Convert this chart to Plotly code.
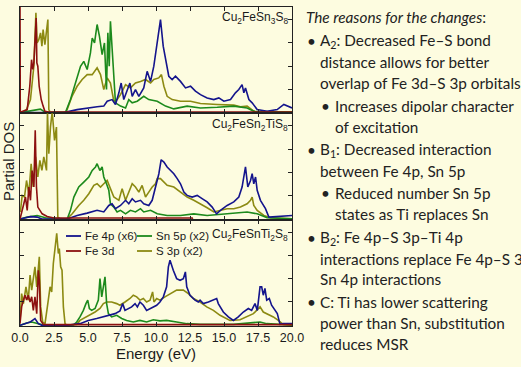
import plotly.graph_objects as go
from plotly.subplots import make_subplots

# ---------------- DATA ----------------
panel_titles = ["Cu<sub>2</sub>FeSn<sub>3</sub>S<sub>8</sub>",
                "Cu<sub>2</sub>FeSn<sub>2</sub>TiS<sub>8</sub>",
                "Cu<sub>2</sub>FeSnTi<sub>2</sub>S<sub>8</sub>"]
series_names = ["S 3p (x2)", "Sn 5p (x2)", "Fe 4p (x6)", "Fe 3d"]
series_colors = ["#8c8a12", "#1c8a1c", "#14148c", "#8c1010"]

# Panel 1: Cu2FeSn3S8
p1_s3p_e = [0, 0.4, 0.77, 1.02, 1.17, 1.26, 1.38, 1.51, 1.61, 1.7, 1.83, 1.95, 2.05, 2.12, 2.24, 3.35, 3.47, 3.84, 4.2, 4.57, 4.94, 5.31, 5.67, 5.92, 6.16, 6.41, 6.65, 6.9, 7.14, 7.39, 7.76, 8.12, 8.49, 8.86, 9.23, 9.6, 9.84, 10.2, 10.4, 10.58, 10.82, 11.19, 11.8, 12.54, 13.27, 14.5, 15.72, 16.21, 16.7, 17.19, 18.17, 20]
p1_s3p_v = [0.0, 0.02, 0.56, 2.0, 4.28, 2.99, 3.13, 3.42, 2.85, 3.56, 2.92, 3.42, 3.99, 0.13, 0.0, 0.0, 0.14, 0.72, 1.13, 1.42, 1.63, 1.63, 1.92, 1.63, 0.99, 1.49, 1.27, 0.49, 0.56, 0.77, 1.2, 1.06, 1.27, 1.34, 1.42, 1.27, 1.42, 1.49, 1.63, 1.13, 0.7, 0.56, 0.49, 0.49, 0.39, 0.35, 0.32, 0.25, 0.28, 0.06, 0.03, 0.03]
p1_sn5p_e = [0, 0.53, 1.0, 1.5, 1.9, 3.35, 3.71, 4.08, 4.45, 4.69, 4.94, 5.18, 5.31, 5.48, 5.67, 5.84, 6.04, 6.21, 6.36, 6.46, 6.56, 6.65, 6.8, 7.02, 7.39, 7.76, 8.0, 8.25, 8.62, 9.1, 9.47, 10.09, 10.7, 11.31, 12.29, 13.27, 14.5, 15.72, 16.7, 17.19, 20]
p1_sn5p_v = [0.0, 0.05, 0.1, 0.15, 0.0, 0.02, 0.56, 1.27, 1.99, 2.2, 1.85, 2.56, 3.2, 2.99, 3.78, 3.28, 2.49, 2.99, 0.99, 3.42, 1.99, 3.92, 2.27, 0.42, 0.28, 0.2, 0.56, 0.42, 0.49, 0.7, 0.56, 0.49, 0.28, 0.16, 0.28, 0.2, 0.23, 0.28, 0.2, 0.06, 0.02]
p1_fe4p_e = [0, 3.22, 4.2, 4.94, 5.67, 6.16, 6.41, 6.77, 7.02, 7.27, 7.44, 7.63, 7.88, 8.08, 8.25, 8.49, 8.74, 9.1, 9.35, 9.6, 9.84, 10.09, 10.33, 10.53, 10.7, 10.94, 11.19, 11.43, 11.8, 12.17, 12.54, 12.9, 13.27, 13.76, 14.25, 14.62, 14.99, 15.48, 15.84, 16.09, 16.33, 16.46, 16.58, 16.83, 17.07, 17.44, 18.17, 18.91, 19.4, 20]
p1_fe4p_v = [0.0, 0.0, 0.13, 0.2, 0.25, 0.28, 0.49, 0.56, 0.35, 0.85, 1.27, 0.56, 0.99, 1.27, 0.7, 0.99, 0.7, 1.06, 1.77, 1.34, 1.99, 3.13, 3.99, 2.85, 2.27, 1.56, 1.42, 1.56, 1.34, 1.06, 1.13, 0.92, 0.77, 0.63, 0.56, 0.63, 0.49, 0.56, 0.85, 0.99, 1.2, 0.85, 1.06, 0.56, 0.42, 0.13, 0.06, 0.13, 0.35, 0.2]
p1_fe3d_e = [0, 0.02, 0.53, 0.72, 0.85, 0.94, 1.02, 1.12, 1.19, 1.24, 1.31, 1.41, 1.56, 1.7, 1.83, 2.2, 20]
p1_fe3d_v = [4.6, 0.02, 0.13, 1.13, 2.27, 1.85, 2.13, 3.42, 4.06, 2.13, 1.99, 1.13, 0.56, 0.28, 0.06, 0.02, 0.02]

# Panel 2: Cu2FeSn2TiS8
p2_s3p_e = [0, 0.04, 0.16, 0.33, 0.48, 0.65, 0.82, 0.97, 1.14, 1.31, 1.46, 1.61, 1.75, 1.9, 1.95, 2.02, 2.12, 2.24, 2.37, 2.54, 2.68, 2.78, 2.95, 3.47, 3.84, 4.32, 4.69, 5.06, 5.43, 5.67, 5.92, 6.16, 6.41, 6.65, 6.9, 7.27, 7.51, 7.76, 8.0, 8.25, 8.49, 8.74, 8.98, 9.23, 9.47, 9.72, 9.96, 10.09, 10.33, 10.58, 10.82, 11.31, 11.8, 12.29, 12.78, 13.27, 13.76, 14.25, 14.74, 15.23, 15.72, 16.21, 16.7, 16.95, 17.07, 17.19, 17.44, 17.93, 18.42, 20]
p2_s3p_v = [0.3, 0.37, 1.01, 0.94, 1.65, 1.08, 2.37, 1.37, 2.66, 1.8, 2.51, 2.08, 2.66, 2.23, 2.08, 4.6, 2.8, 3.94, 4.6, 3.37, 3.94, 0.08, 0.0, 0.01, 0.22, 0.58, 0.8, 1.08, 1.44, 1.51, 1.37, 1.51, 1.65, 1.3, 0.94, 0.8, 1.3, 0.8, 1.15, 1.51, 1.37, 1.15, 1.44, 0.94, 1.15, 1.37, 1.51, 1.73, 1.73, 1.58, 1.44, 1.37, 1.15, 0.94, 0.8, 0.65, 0.48, 0.3, 0.37, 0.44, 0.44, 0.51, 0.65, 0.8, 0.94, 0.58, 0.37, 0.15, 0.05, 0.01]
p2_sn5p_e = [0, 0.53, 1.26, 1.87, 3.47, 3.71, 3.96, 4.32, 4.69, 5.06, 5.31, 5.55, 5.67, 5.87, 6.04, 6.16, 6.36, 6.53, 6.65, 6.9, 7.14, 7.39, 7.76, 8.12, 8.49, 8.86, 9.1, 9.6, 10.09, 10.82, 11.8, 12.78, 13.76, 14.74, 15.72, 16.7, 17.44, 18.17, 20]
p2_sn5p_v = [0.0, 0.08, 0.15, 0.05, 0.0, 0.37, 0.94, 1.37, 1.58, 1.8, 2.08, 2.23, 2.37, 2.08, 2.23, 1.8, 1.51, 1.23, 0.65, 0.51, 0.3, 0.37, 0.22, 0.37, 0.3, 0.44, 0.3, 0.37, 0.22, 0.15, 0.15, 0.22, 0.15, 0.2, 0.22, 0.3, 0.22, 0.05, 0.01]
p2_fe4p_e = [0, 0.77, 1.26, 1.6, 3.47, 4.2, 4.94, 5.67, 6.16, 6.53, 6.77, 7.02, 7.39, 7.76, 8.0, 8.25, 8.49, 8.86, 9.1, 9.47, 9.72, 9.96, 10.21, 10.38, 10.58, 10.82, 11.07, 11.31, 11.56, 11.8, 12.05, 12.29, 12.66, 13.03, 13.39, 13.76, 14.13, 14.45, 14.74, 15.23, 15.72, 16.09, 16.33, 16.58, 16.75, 16.95, 17.07, 17.19, 17.32, 17.44, 17.68, 18.05, 18.3, 18.91, 20]
p2_fe4p_v = [0.0, 0.1, 0.08, 0.0, 0.0, 0.15, 0.25, 0.37, 0.3, 0.58, 0.65, 0.44, 0.58, 0.8, 0.65, 0.87, 0.73, 0.8, 0.65, 0.58, 0.8, 1.37, 1.94, 2.54, 2.44, 2.23, 2.08, 1.94, 1.73, 1.51, 1.15, 1.01, 0.94, 1.01, 0.87, 0.73, 0.51, 0.22, 0.37, 0.58, 0.73, 0.94, 1.37, 2.23, 1.37, 1.65, 1.94, 1.51, 1.8, 1.23, 0.8, 0.44, 0.08, 0.11, 0.15]
p2_fe3d_e = [0, 0.04, 0.28, 0.4, 0.53, 0.65, 0.77, 0.89, 1.02, 1.12, 1.21, 1.31, 1.46, 1.63, 2.0, 2.49, 12.66, 12.7]
p2_fe3d_v = [0.0, 0.08, 0.65, 0.94, 0.37, 1.37, 0.8, 2.08, 1.37, 3.8, 1.37, 0.51, 0.37, 0.22, 0.11, 0.04, 0.04, 0.0]

# Panel 3: Cu2FeSnTi2S8
p3_s3p_e = [0, 0.12, 0.25, 0.44, 0.61, 0.74, 0.86, 0.98, 1.1, 1.23, 1.35, 1.42, 1.52, 1.67, 1.84, 1.96, 2.08, 2.21, 2.33, 2.45, 2.57, 2.7, 2.82, 2.89, 2.99, 3.09, 3.19, 3.31, 3.45, 4.17, 4.41, 4.66, 4.9, 5.15, 5.52, 5.88, 6.13, 6.37, 6.74, 7.11, 7.35, 7.72, 8.09, 8.33, 8.58, 8.82, 9.07, 9.31, 9.56, 9.75, 9.85, 10.05, 10.29, 10.66, 11.03, 11.52, 12.01, 12.38, 12.75, 13.24, 13.73, 14.22, 14.71, 15.44, 16.18, 16.67, 17.16, 17.4, 17.65, 17.89, 18.14, 18.63, 18.99, 19.36, 20]
p3_s3p_v = [0.2, 1.36, 0.93, 1.65, 1.08, 2.15, 1.51, 2.0, 2.51, 1.65, 2.79, 2.94, 0.79, 0.14, 0.07, 0.5, 1.08, 1.65, 1.43, 2.65, 3.22, 3.94, 3.08, 3.29, 2.51, 2.36, 0.79, 0.07, 0.0, 0.04, 0.21, 0.29, 0.36, 0.43, 0.57, 0.72, 0.93, 1.0, 1.0, 0.93, 0.86, 1.0, 1.15, 1.29, 1.22, 1.08, 1.15, 1.0, 1.08, 1.43, 1.0, 1.15, 1.08, 1.22, 1.36, 1.51, 1.51, 1.36, 1.15, 1.0, 0.79, 0.64, 0.43, 0.21, 0.24, 0.36, 0.5, 0.64, 0.79, 0.57, 0.5, 0.36, 0.21, 0.04, 0.0]
p3_sn5p_e = [0, 0.49, 0.86, 1.47, 1.8, 3.92, 4.17, 4.41, 4.66, 4.85, 4.98, 5.1, 5.27, 5.52, 5.76, 5.88, 6.01, 6.13, 6.25, 6.37, 6.5, 6.74, 7.11, 7.48, 7.84, 8.33, 8.82, 9.31, 9.8, 10.29, 10.78, 11.52, 12.26, 13.24, 15.69, 17.65, 18.14, 20]
p3_sn5p_v = [0.0, 0.1, 0.14, 0.04, 0.0, 0.01, 0.14, 0.36, 0.64, 0.93, 1.08, 0.72, 0.64, 0.72, 1.08, 2.0, 1.22, 1.65, 2.08, 0.93, 0.5, 0.36, 0.43, 0.29, 0.21, 0.14, 0.21, 0.14, 0.24, 0.19, 0.21, 0.14, 0.07, 0.04, 0.04, 0.14, 0.07, 0.01]
p3_fe4p_e = [0, 0.74, 1.1, 1.35, 1.6, 3.43, 4.41, 5.02, 5.64, 6.13, 6.62, 6.99, 7.35, 7.55, 7.72, 7.97, 8.21, 8.46, 8.63, 8.82, 9.07, 9.31, 9.56, 9.8, 10.05, 10.29, 10.54, 10.78, 10.91, 11.03, 11.15, 11.27, 11.52, 11.77, 12.01, 12.16, 12.26, 12.5, 12.87, 13.11, 13.24, 13.48, 13.85, 14.22, 14.46, 14.58, 14.95, 15.32, 15.69, 16.05, 16.42, 16.79, 17.03, 17.28, 17.45, 17.65, 17.77, 17.89, 18.01, 18.14, 18.33, 18.5, 18.75, 18.92, 19.12, 19.36, 20]
p3_fe4p_v = [0.0, 0.14, 0.29, 0.07, 0.0, 0.0, 0.07, 0.21, 0.29, 0.36, 0.43, 0.5, 0.62, 0.93, 0.64, 0.72, 0.79, 0.93, 0.79, 1.0, 0.86, 0.64, 0.72, 0.79, 0.86, 1.0, 1.22, 1.65, 2.51, 2.79, 2.51, 2.36, 2.0, 1.93, 2.0, 2.29, 1.65, 1.29, 1.08, 1.0, 1.08, 0.93, 1.0, 1.08, 1.15, 0.93, 0.57, 0.36, 0.21, 0.36, 0.57, 0.72, 0.64, 0.93, 0.64, 1.65, 1.65, 1.29, 1.58, 1.08, 1.15, 0.86, 0.64, 0.5, 0.04, 0.07, 0.07]
p3_fe3d_e = [0, 0.12, 0.25, 0.37, 0.49, 0.61, 0.74, 0.86, 0.98, 1.1, 1.23, 1.35, 1.42, 1.52, 1.72, 2.2, 20]
p3_fe3d_v = [0.07, 0.79, 1.08, 1.29, 1.08, 1.29, 1.0, 1.22, 0.64, 1.22, 0.5, 2.36, 1.93, 0.21, 0.04, 0.03, 0.03]

x_ticks = [0, 2.5, 5, 7.5, 10, 12.5, 15, 17.5, 20]
x_tick_labels = ["0.0", "2.5", "5.0", "7.5", "10.0", "12.5", "15.0", "17.5", "20.0"]

notes = [
    ("<i>The reasons for the changes</i>:", 304, 17, False),
    ("A<sub>2</sub>: Decreased Fe\u2013S bond", 318, 41, "b1"),
    ("distance allows for better", 318, 62, False),
    ("overlap of Fe 3d\u2013S 3p orbitals", 318, 83, False),
    ("Increases dipolar character", 333, 106, "b2"),
    ("of excitation", 333, 127, False),
    ("B<sub>1</sub>: Decreased interaction", 318, 150, "b1"),
    ("between Fe 4p, Sn 5p", 318, 171, False),
    ("Reduced number Sn 5p", 333, 193, "b2"),
    ("states as Ti replaces Sn", 333, 214, False),
    ("B<sub>2</sub>: Fe 4p\u2013S 3p\u2013Ti 4p", 318, 238, "b1"),
    ("interactions replace Fe 4p\u2013S 3p\u2013", 318, 259, False),
    ("Sn 4p interactions", 318, 279, False),
    ("C: Ti has lower scattering", 318, 302, "b1"),
    ("power than Sn, substitution", 318, 323, False),
    ("reduces MSR", 318, 344, False),
]

# ---------------- FIGURE ----------------
W, H = 521, 367
ML, MR, MT, MB = 20, 229, 7, 41
PW, PH = W - ML - MR, H - MT - MB
BG = "#fdfce0"

def px_x(px):
    return (px - ML) / PW

def px_y(py):
    return (H - MB - py) / PH

fig = make_subplots(rows=3, cols=1, shared_xaxes=True, vertical_spacing=0)

panels = [
    [(p1_s3p_e, p1_s3p_v), (p1_sn5p_e, p1_sn5p_v), (p1_fe4p_e, p1_fe4p_v), (p1_fe3d_e, p1_fe3d_v)],
    [(p2_s3p_e, p2_s3p_v), (p2_sn5p_e, p2_sn5p_v), (p2_fe4p_e, p2_fe4p_v), (p2_fe3d_e, p2_fe3d_v)],
    [(p3_s3p_e, p3_s3p_v), (p3_sn5p_e, p3_sn5p_v), (p3_fe4p_e, p3_fe4p_v), (p3_fe3d_e, p3_fe3d_v)],
]
for r, series in enumerate(panels, start=1):
    for (e, v), name, col in zip(series, series_names, series_colors):
        fig.add_trace(go.Scatter(x=e, y=v, mode="lines", name=name,
                                 line=dict(color=col, width=1.6),
                                 showlegend=False, cliponaxis=True, hoverinfo="skip"),
                      row=r, col=1)

axis_font = dict(family="Liberation Sans, Arial, sans-serif", size=12.5, color="#1a1a1a")
for r in range(1, 4):
    fig.update_xaxes(range=[0, 20], tickvals=x_ticks, ticktext=x_tick_labels,
                     ticks="inside", ticklen=4, tickcolor="#222",
                     showline=True, linecolor="#222", linewidth=1, mirror="allticks",
                     showgrid=False, zeroline=False,
                     showticklabels=(r == 3), tickfont=axis_font, row=r, col=1)
    fig.update_yaxes(range=[-0.03, 4.53], dtick=1, tick0=0, ticks="inside", ticklen=4,
                     tickcolor="#222", showline=True, linecolor="#222", linewidth=1,
                     mirror="allticks", showgrid=False, zeroline=False,
                     showticklabels=False, row=r, col=1)

fig.update_xaxes(title=dict(text="Energy (eV)", standoff=2,
                            font=dict(family="Liberation Sans, Arial, sans-serif", size=15, color="#1a1a1a")),
                 row=3, col=1)

annotations = []
# panel titles
title_y = [18, 125, 235]
for t, yy in zip(panel_titles, title_y):
    annotations.append(dict(text=t, xref="paper", yref="paper", x=px_x(290), y=px_y(yy),
                            xanchor="right", yanchor="middle", showarrow=False,
                            font=dict(family="Liberation Sans, Arial, sans-serif", size=12, color="#1a1a1a")))
# y axis title
annotations.append(dict(text="Partial DOS", xref="paper", yref="paper", x=px_x(8), y=px_y(162),
                        textangle=-90, xanchor="center", yanchor="middle", showarrow=False,
                        font=dict(family="Liberation Sans, Arial, sans-serif", size=15, color="#1a1a1a")))

# manual legend in bottom panel
legend_items = [
    (2, 66, 236), (1, 137, 236),
    (3, 66, 251), (0, 137, 251),
]
shapes = []
for idx, lx, ly in legend_items:
    shapes.append(dict(type="line", xref="paper", yref="paper",
                       x0=px_x(lx), x1=px_x(lx + 15), y0=px_y(ly), y1=px_y(ly),
                       line=dict(color=series_colors[idx], width=1.8)))
    annotations.append(dict(text=series_names[idx], xref="paper", yref="paper",
                            x=px_x(lx + 17), y=px_y(ly), xanchor="left", yanchor="middle",
                            showarrow=False,
                            font=dict(family="Liberation Sans, Arial, sans-serif", size=11.5, color="#1a1a1a")))

# right-hand notes
note_font = dict(family="Lato, Carlito, sans-serif", size=15.3, color="#222")
for text, px, py, bullet in notes:
    annotations.append(dict(text=text, xref="paper", yref="paper", x=px_x(px), y=px_y(py),
                            xanchor="left", yanchor="middle", showarrow=False, font=note_font))
    if bullet:
        bx = px - 13 if bullet == "b1" else px - 14
        annotations.append(dict(text="\u2022", xref="paper", yref="paper", x=px_x(bx), y=px_y(py),
                                xanchor="left", yanchor="middle", showarrow=False, font=note_font))

fig.update_layout(width=W, height=H, margin=dict(l=ML, r=MR, t=MT, b=MB),
                  paper_bgcolor=BG, plot_bgcolor=BG, showlegend=False, hovermode=False,
                  annotations=annotations, shapes=shapes)

fig.write_html("out.html", config={"displayModeBar": False, "staticPlot": True},
               post_script="document.body.style.margin='0';document.body.style.overflow='hidden';"
                           "document.body.style.background='" + BG + "';")
